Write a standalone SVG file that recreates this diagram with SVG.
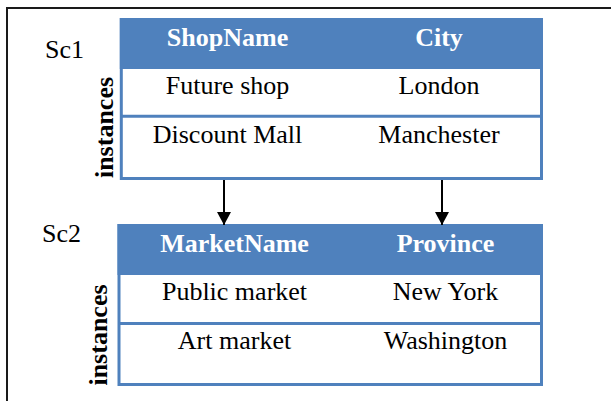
<svg xmlns="http://www.w3.org/2000/svg" width="611" height="401" viewBox="0 0 611 401">
<style>
.frame{stroke:#1a1a1a;stroke-width:2;fill:none}
.tbl{fill:#ffffff;stroke:#4F81BD;stroke-width:3}
.hdr{fill:#4F81BD}
.sep{stroke:#4F81BD;stroke-width:3}
.h{font-family:"Liberation Serif","Times New Roman",serif;font-size:26px;font-weight:bold;fill:#ffffff;text-anchor:middle}
.c{font-family:"Liberation Serif","Times New Roman",serif;font-size:26px;fill:#000000;text-anchor:middle}
.lbl{font-family:"Liberation Serif","Times New Roman",serif;font-size:26px;fill:#000000}
.inst{font-family:"Liberation Serif","Times New Roman",serif;font-size:26px;font-weight:bold;fill:#000000;text-anchor:middle}
.conn{stroke:#000000;stroke-width:2;fill:none}
</style>
<defs>
<marker id="arrow" markerWidth="14" markerHeight="14" refX="13" refY="7" orient="auto" markerUnits="userSpaceOnUse">
<path d="M0,0 L13,7 L0,14 Z" fill="#000000"/>
</marker>
</defs>
<rect width="611" height="401" fill="#ffffff"/>
<path class="frame" d="M7,401 L7,8 L611,8"/>
<g id="sc1">
<text class="lbl" x="45" y="58">Sc1</text>
<rect class="tbl" x="121.3" y="19.5" width="420.2" height="159"/>
<rect class="hdr" x="119.8" y="18" width="423.2" height="51"/>
<line class="sep" x1="121.3" y1="116.3" x2="541.5" y2="116.3"/>
<text class="h" x="227.5" y="46">ShopName</text>
<text class="h" x="439" y="46">City</text>
<text class="c" x="227.5" y="94">Future shop</text>
<text class="c" x="439" y="94">London</text>
<text class="c" x="227.5" y="143">Discount Mall</text>
<text class="c" x="439" y="143">Manchester</text>
<text class="inst" transform="translate(113,127.5) rotate(-90)">instances</text>
</g>
<g id="sc2">
<text class="lbl" x="42" y="242">Sc2</text>
<rect class="tbl" x="119" y="225.5" width="422.5" height="159"/>
<rect class="hdr" x="117.5" y="224" width="425.5" height="51"/>
<line class="sep" x1="119" y1="323.5" x2="541.5" y2="323.5"/>
<text class="h" x="234.5" y="252">MarketName</text>
<text class="h" x="445.5" y="252">Province</text>
<text class="c" x="234.5" y="300">Public market</text>
<text class="c" x="445.5" y="300">New York</text>
<text class="c" x="234.5" y="349">Art market</text>
<text class="c" x="445.5" y="349">Washington</text>
<text class="inst" transform="translate(106.5,335) rotate(-90)">instances</text>
</g>
<g id="connectors">
<line class="conn" x1="224" y1="180" x2="224" y2="225" marker-end="url(#arrow)"/>
<line class="conn" x1="442" y1="180" x2="442" y2="225" marker-end="url(#arrow)"/>
</g>
</svg>
